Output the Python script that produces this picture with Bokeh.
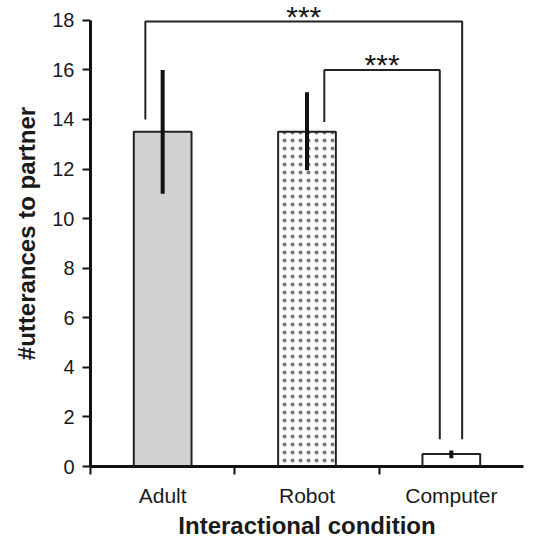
from bokeh.plotting import figure
from bokeh.models import ColumnDataSource, FixedTicker, Range1d
from bokeh.core.properties import value
from bokeh.embed import file_html
from bokeh.resources import INLINE

# ---- data ----
categories = ["Adult", "Robot", "Computer"]
means = [13.5, 13.5, 0.5]
err_low = [11.0, 11.95, 0.33]
err_high = [16.0, 15.1, 0.65]
fills = ["#d0d2d0", "white", "white"]
hatches = [" ", "dot", " "]
y_ticks = [0, 2, 4, 6, 8, 10, 12, 14, 16, 18]

# significance brackets
sig_from = [0, 1]
sig_to = [2, 2]
sig_top = [17.95, 16.0]
sig_left_bottom = [14.0, 13.9]
sig_right_bottom = [1.1, 1.1]
sig_left_offset = [-0.12, 0.12]
sig_right_offset = [0.075, -0.08]
sig_label = ["***", "***"]

FONT = "Liberation Sans"
TXT = "#1a1a1a"

xs = [i + 0.5 for i in range(len(categories))]

p = figure(width=530, height=541, output_backend="svg", toolbar_location=None,
           x_range=Range1d(0, 3), y_range=Range1d(0, 18.8),
           min_border_left=90, min_border_right=7, min_border_top=0,
           min_border_bottom=74)
p.outline_line_color = None
p.xgrid.visible = False
p.ygrid.visible = False
p.background_fill_color = "white"

src = ColumnDataSource(dict(x=xs, top=means, fill=fills, hatch=hatches))
p.vbar(x="x", top="top", width=0.4, bottom=0, source=src,
       fill_color="fill", line_color="#222222", line_width=2,
       hatch_pattern="hatch", hatch_color="#555555", hatch_alpha=0.8,
       hatch_scale=8, hatch_weight=0.5)

p.segment(x0=xs, y0=err_low, x1=xs, y1=err_high, line_color="#111111",
          line_width=4)

bx, by, sx, sy = [], [], [], []
for f, t, top, lb, rb, lo, ro in zip(sig_from, sig_to, sig_top, sig_left_bottom,
                                       sig_right_bottom, sig_left_offset, sig_right_offset):
    x0 = xs[f] + lo
    x1 = xs[t] + ro
    bx.append([x0, x0, x1, x1])
    by.append([lb, top, top, rb])
    sx.append((x0 + x1) / 2)
    sy.append(top + 0.22)
p.multi_line(xs=bx, ys=by, line_color="#222222", line_width=2)
p.text(x=sx, y=sy, text=sig_label, text_font=value(FONT), text_font_size="30px",
       text_align="center", text_baseline="alphabetic", text_color=TXT)

# axes
xa = p.xaxis[0]
xa.ticker = FixedTicker(ticks=xs, minor_ticks=[0, 1, 2])
xa.major_label_overrides = {x: c for x, c in zip(xs, categories)}
xa.major_tick_out = 0
xa.major_tick_in = 0
xa.minor_tick_out = 8
xa.minor_tick_in = 0
xa.minor_tick_line_width = 2
xa.minor_tick_line_color = "#111111"
xa.axis_line_width = 3
xa.axis_line_color = "#111111"
xa.major_label_standoff = 9
xa.major_label_text_font = FONT
xa.major_label_text_font_size = "21px"
xa.major_label_text_color = TXT
xa.axis_label = "Interactional condition"
xa.axis_label_text_font = FONT
xa.axis_label_text_font_size = "24px"
xa.axis_label_text_font_style = "bold"
xa.axis_label_text_color = TXT
xa.axis_label_standoff = 2

ya = p.yaxis[0]
ya.ticker = FixedTicker(ticks=y_ticks)
ya.bounds = (0, 18)
ya.major_tick_out = 8
ya.major_tick_in = 0
ya.major_tick_line_width = 2
ya.major_tick_line_color = "#111111"
ya.minor_tick_line_color = None
ya.axis_line_width = 3
ya.axis_line_color = "#111111"
ya.major_label_standoff = 8
ya.major_label_text_font = FONT
ya.major_label_text_font_size = "20px"
ya.major_label_text_color = TXT
ya.axis_label = "#utterances to partner"
ya.axis_label_text_font = FONT
ya.axis_label_text_font_size = "24px"
ya.axis_label_text_font_style = "bold"
ya.axis_label_text_color = TXT
ya.axis_label_standoff = 9

open("out.html", "w").write(file_html(p, INLINE))
